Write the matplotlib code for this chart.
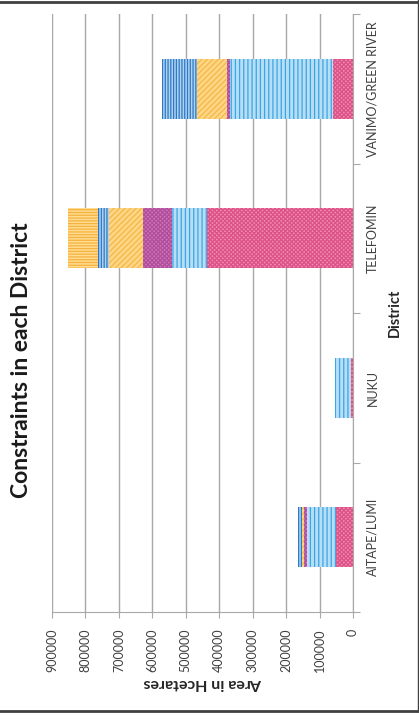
import matplotlib
matplotlib.use("Agg")
import matplotlib.pyplot as plt
from matplotlib.lines import Line2D
import numpy as np

plt.rcParams['font.family'] = ['Lato', 'DejaVu Sans']
plt.rcParams['hatch.linewidth'] = 0.9

districts = ["AITAPE/LUMI", "NUKU", "TELEFOMIN", "VANIMO/GREEN RIVER"]

# constraint series, stacked from 0 outwards
s1 = [51000, 6000, 436000, 60000]     # pink
s2 = [87000, 48000, 105000, 308000]   # light blue stripes
s3 = [9000, 0, 87000, 9000]           # purple
s4 = [6000, 0, 102000, 90000]         # orange diagonal
s5 = [12000, 0, 33000, 105000]        # dark blue stripes
s6 = [0, 0, 90000, 0]                 # orange horizontal

series = [s1, s2, s3, s4, s5, s6]
faces = ['#f08cb0', '#b8def6', '#cd78b8', '#ffd683', '#aed3f2', '#ffdc90']
hatchcols = ['#dc5288', '#3aa6e4', '#b14d9c', '#f4b74a', '#2f78c4', '#f6b23f']
hatches = ['xxxxxxxx', '||||', 'xxxxxxxx', '//////', '||||||', '------']

xticks = np.arange(0, 900001, 100000)
xlabels = [str(v) for v in xticks]

W, H = 419, 721
fig = plt.figure(figsize=(W / 100, H / 100), dpi=100)
ax = fig.add_axes([52 / W, 1 - 612 / H, (353 - 52) / W, (612 - 14) / H])

pos = np.arange(len(districts))
left = np.zeros(len(districts))
for vals, fc, hc, ht in zip(series, faces, hatchcols, hatches):
    vals = np.array(vals)
    ax.barh(pos, vals, left=left, height=0.4, color=fc, edgecolor=hc,
            hatch=ht, linewidth=0, zorder=3)
    left += vals

ax.set_xlim(900000, 0)
ax.set_ylim(-0.5, 3.5)

ax.set_xticks(xticks)
ax.set_xticklabels(xlabels, rotation=90, va='top', ha='center', fontsize=9,
                   color='#404040')
ax.xaxis.grid(True, color='#a8a8a8', linewidth=1, zorder=0)
ax.tick_params(axis='x', direction='out', length=4, color='#a8a8a8', pad=8)

ax.yaxis.tick_right()
ax.set_yticks([-0.5, 0.5, 1.5, 2.5, 3.5])
ax.set_yticklabels([])
ax.set_yticks(pos, minor=True)
ax.set_yticklabels(districts, minor=True, rotation=90, va='center', fontsize=9,
                   color='#404040')
ax.tick_params(axis='y', which='major', direction='out', length=5, color='#a8a8a8')
ax.tick_params(axis='y', which='minor', length=0, pad=10)

for s in ['left', 'top']:
    ax.spines[s].set_visible(False)
for s in ['right', 'bottom']:
    ax.spines[s].set_color('#a8a8a8')

fig.text(395 / W, 1 - 313 / H, "District", rotation=90, ha='center', va='center',
         fontsize=10.5, fontweight='bold', color='#262626')
fig.text(202.5 / W, 1 - 683 / H, "Area in Hcetares", rotation=180, ha='center',
         va='center', fontsize=11.5, fontweight='bold', color='#262626')
fig.text(22 / W, 0.5, "Constraints in each District", rotation=90, ha='center',
         va='center', fontsize=16.5, fontweight='bold', color='#1a1a1a')

# frame lines of the pasted picture
fig.add_artist(Line2D([0, 1], [1 - 1.5 / H, 1 - 1.5 / H], color='#404040', lw=2))
fig.add_artist(Line2D([0, 1], [1 - 711 / H, 1 - 711 / H], color='#404040', lw=2))
fig.add_artist(Line2D([1 - 1 / W, 1 - 1 / W], [1 - 711 / H, 1], color='#404040', lw=1))

fig.savefig("out.png", dpi=100)
